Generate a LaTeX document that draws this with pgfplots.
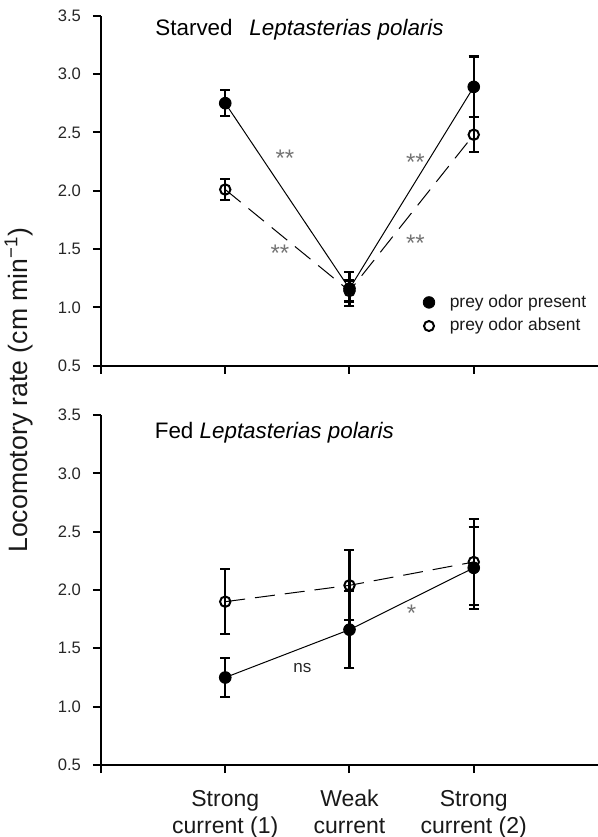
\documentclass[border=0pt]{standalone}
\usepackage{fontspec}
\setmainfont{Liberation Sans}
\usepackage{pgfplots}
\pgfplotsset{compat=1.18}
\begin{document}
\begin{tikzpicture}[ast/.style={font=\fontsize{12}{12}\selectfont, text=black!55}]
\pgfplotsset{
  panel/.style={
    scale only axis, width=248.5pt, height=175pt,
    xmin=0, xmax=4, ymin=0.5, ymax=3.5,
    axis x line*=bottom, axis y line*=left,
    axis line style={line width=1pt},
    xtick={0,1,2,3}, ytick={0.5,1,1.5,2,2.5,3,3.5},
    tick align=outside, major tick length=4pt,
    tick style={line width=1pt, black},
    /pgf/number format/assume math mode=true,
    yticklabel style={/pgf/number format/fixed, /pgf/number format/fixed zerofill,
      /pgf/number format/precision=1, font=\fontsize{8.3}{9}\selectfont, text=black!85, xshift=-2.5pt},
    clip=false,
  },
  pres/.style={black, line width=0.5pt, mark=*, mark size=2.9pt,
    error bars/y dir=both, error bars/y explicit,
    error bars/error mark=-,
    error bars/error bar style={line width=1.1pt, solid},
    error bars/error mark options={rotate=90, line width=1.1pt, mark size=2.5pt, solid}},
  abs/.style={black, line width=0.5pt, dash pattern=on 10pt off 5pt, mark=o, mark size=2.6pt,
    mark options={solid, fill=white, line width=1pt},
    error bars/y dir=both, error bars/y explicit,
    error bars/error mark=-,
    error bars/error bar style={line width=1.1pt, solid},
    error bars/error mark options={rotate=90, line width=1.1pt, mark size=2.5pt, solid}},
}
% top panel
\begin{axis}[panel, at={(0pt,0pt)}, anchor=south west,
  xticklabels={},
  legend style={at={(axis cs:2.59,1.13)}, anchor=north west, draw=none, fill=none,
    font=\fontsize{8.7}{10}\selectfont, inner sep=0pt, row sep=2pt, column sep=6.5pt,
    nodes={inner sep=1pt, text=black!90}, cells={anchor=west}},
]
\addplot[pres, forget plot] coordinates {(1,2.75) +- (0,0.11) (2,1.16) +- (0,0.145) (3,2.89) +- (0,0.26)};
\addplot[abs, forget plot] coordinates {(1,2.01) +- (0,0.09) (2,1.14) +- (0,0.09) (3,2.48) +- (0,0.15)};
\addlegendimage{only marks, mark=*, mark size=2.9pt}
\addlegendentry{prey odor present}
\addlegendimage{only marks, mark=o, mark size=2.5pt, mark options={line width=1pt}}
\addlegendentry{prey odor absent}
\node[anchor=base west, inner sep=0pt, font=\fontsize{11.2}{13}\selectfont] at (axis cs:0.435,3.33) {Starved\hspace{0.75em}\textit{Leptasterias polaris}};
\node[ast] at (axis cs:1.48,2.28) {**};
\node[ast] at (axis cs:1.44,1.46) {**};
\node[ast] at (axis cs:2.53,2.24) {**};
\node[ast] at (axis cs:2.53,1.55) {**};
\end{axis}
% bottom panel
\begin{axis}[panel, at={(0pt,-199.65pt)}, anchor=south west,
  xticklabels={,{Strong\\current (1)},{Weak\\current},{Strong\\current (2)}},
  xticklabel style={align=center, font=\fontsize{11.5}{13.5}\selectfont, text=black!90, yshift=-5pt},
]
\addplot[pres] coordinates {(1,1.25) +- (0,0.17) (2,1.66) +- (0,0.33) (3,2.19) +- (0,0.35)};
\addplot[abs] coordinates {(1,1.90) +- (0,0.28) (2,2.04) +- (0,0.30) (3,2.24) +- (0,0.37)};
\node[anchor=base west, inner sep=0pt, font=\fontsize{11.2}{13}\selectfont] at (axis cs:0.43,3.30) {Fed \textit{Leptasterias polaris}};
\node[font=\fontsize{8.5}{10}\selectfont, text=black!85] at (axis cs:1.62,1.33) {ns};
\node[ast] at (axis cs:2.50,1.80) {*};
\end{axis}
\node[rotate=90, font=\fontsize{13.3}{15}\selectfont, text=black!90] at (-41pt,-12.15pt) {Locomotory rate (cm min\textsuperscript{\char"2212 1})};
\pgfresetboundingbox
\useasboundingbox (-50.5pt,-235.65pt) rectangle (248.5pt,182.85pt);
\end{tikzpicture}
\end{document}
